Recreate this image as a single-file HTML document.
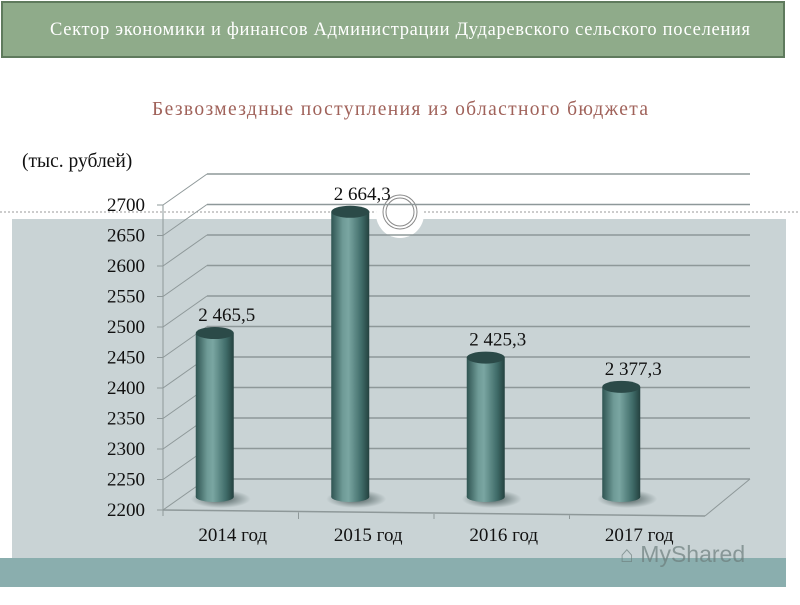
<!DOCTYPE html>
<html><head><meta charset="utf-8"><style>
body{margin:0;width:800px;height:600px;overflow:hidden;background:#fff;font-family:"Liberation Serif",serif}
</style></head><body>
<svg width="800" height="600" xmlns="http://www.w3.org/2000/svg">
<defs>
<linearGradient id="cyl" x1="0" x2="1" y1="0" y2="0">
<stop offset="0" stop-color="#2f5452"/><stop offset="0.3" stop-color="#6e9a96"/><stop offset="0.45" stop-color="#7aa6a2"/><stop offset="0.8" stop-color="#3f6b68"/><stop offset="1" stop-color="#24413f"/>
</linearGradient>
<radialGradient id="shadow"><stop offset="0" stop-color="#3a4d4c" stop-opacity="0.9"/><stop offset="1" stop-color="#3a4d4c" stop-opacity="0"/></radialGradient>
</defs>
<rect x="12" y="219" width="774" height="340" fill="#c9d3d5"/>
<rect x="0" y="558" width="786" height="29" fill="#8aaeae"/>
<line x1="0" y1="212" x2="800" y2="212" stroke="#999" stroke-dasharray="2,2"/>
<circle cx="400" cy="214" r="24" fill="#fff"/>
<circle cx="400" cy="212" r="17" fill="none" stroke="#888" stroke-width="1"/>
<circle cx="400" cy="212" r="14" fill="none" stroke="#888" stroke-width="1"/>
<rect x="2" y="2" width="782" height="55" fill="#8fab8a" stroke="#5f7a5d" stroke-width="2"/>
<text x="400" y="35" text-anchor="middle" font-size="18.5" fill="#fff" textLength="700">Сектор экономики и финансов Администрации Дударевского сельского поселения</text>
<text x="400" y="115" text-anchor="middle" font-size="19.5" fill="#a0625a" textLength="496">Безвозмездные поступления из областного бюджета</text>
<text x="22" y="167" font-size="19.5" fill="#111">(тыс. рублей)</text>
<g id="grid"></g>
<g id="bars"></g>
<text x="620" y="562" font-family="Liberation Sans,sans-serif" font-size="23" fill="#6d7f7d" opacity="0.7">⌂ MyShared</text>
</svg>
<script>
const categories=["2014 год","2015 год","2016 год","2017 год"];
const values=[2465.5,2664.3,2425.3,2377.3];
const valueLabels=["2 465,5","2 664,3","2 425,3","2 377,3"];
const ticks=[2200,2250,2300,2350,2400,2450,2500,2550,2600,2650,2700];
const NS="http://www.w3.org/2000/svg";
const y0=510,k=0.61,fx=163,bx=207,dy=31,xEnd=750;
const yF=v=>y0-(v-2200)*k;
function mk(t,a,p){const e=document.createElementNS(NS,t);for(const n in a)e.setAttribute(n,a[n]);p.appendChild(e);return e;}
const g=document.getElementById('grid');
ticks.forEach(v=>{
  const y=yF(v);
  let l=mk('line',{x1:bx,y1:y-dy,x2:xEnd,y2:y-dy,stroke:'#8e9899','stroke-width':1.5},g);
  
  
  mk('line',{x1:fx,y1:y,x2:bx,y2:y-dy,stroke:'#8e9899','stroke-width':1},g);
  mk('line',{x1:fx-6,y1:y,x2:fx,y2:y,stroke:'#8e9899'},g);
  const t=mk('text',{x:fx-18,y:y+6,'text-anchor':'end','font-size':19,fill:'#111'},g);
  t.textContent=v;
  
  
});
mk('line',{x1:fx,y1:yF(2700),x2:fx,y2:y0+6,stroke:'#8e9899'},g);
mk('line',{x1:fx,y1:y0,x2:705,y2:y0+6,stroke:'#8e9899','stroke-width':1.5},g);
mk('line',{x1:705,y1:y0+6,x2:xEnd,y2:y0-dy,stroke:'#8e9899'},g);
const b=document.getElementById('bars');
const slot=(705-fx)/categories.length;
categories.forEach((c,i)=>{
  const cx=fx+slot*(i+0.5)-16, top=yF(values[i])-15, bot=y0-13, w=38;
  mk('ellipse',{cx:cx+6,cy:bot+2,rx:30,ry:9,fill:'url(#shadow)'},b);
  const r=mk('rect',{x:cx-w/2,y:top,width:w,height:bot-top,fill:'url(#cyl)'},b);
  
  
  mk('ellipse',{cx:cx,cy:bot,rx:w/2,ry:5,fill:'url(#cyl)'},b);
  mk('ellipse',{cx:cx,cy:top,rx:w/2,ry:6,fill:'#2b4a48'},b);
  const vl=mk('text',{x:cx+12,y:top-12,'text-anchor':'middle','font-size':19,fill:'#111'},b);
  vl.textContent=valueLabels[i];
  
  
  const cl=mk('text',{x:fx+slot*(i+0.5)+2,y:541,'text-anchor':'middle','font-size':19,fill:'#111'},b);
  cl.textContent=c;
  
  
  if(i>0){mk('line',{x1:fx+slot*i,y1:y0+1+i*1.5,x2:fx+slot*i,y2:y0+9,stroke:'#8e9899'},b);}
});
</script>
</body></html>
